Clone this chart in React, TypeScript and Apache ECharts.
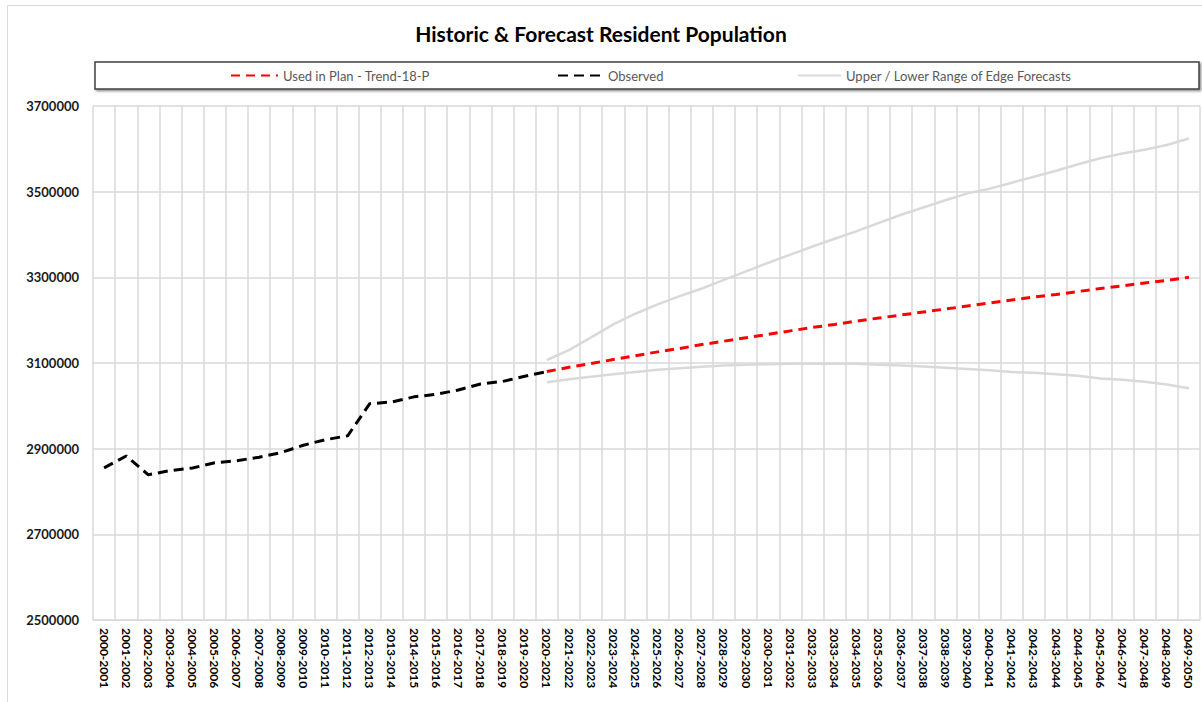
import React, { useEffect, useRef } from "react";
import * as echarts from "echarts";

const TITLE = "Historic & Forecast Resident Population";
const LEGEND_PLAN = "Used in Plan - Trend-18-P";
const LEGEND_OBS = "Observed";
const LEGEND_RANGE = "Upper / Lower Range of Edge Forecasts";

const categories = [
  "2000-2001", "2001-2002", "2002-2003", "2003-2004", "2004-2005",
  "2005-2006", "2006-2007", "2007-2008", "2008-2009", "2009-2010",
  "2010-2011", "2011-2012", "2012-2013", "2013-2014", "2014-2015",
  "2015-2016", "2016-2017", "2017-2018", "2018-2019", "2019-2020",
  "2020-2021", "2021-2022", "2022-2023", "2023-2024", "2024-2025",
  "2025-2026", "2026-2027", "2027-2028", "2028-2029", "2029-2030",
  "2030-2031", "2031-2032", "2032-2033", "2033-2034", "2034-2035",
  "2035-2036", "2036-2037", "2037-2038", "2038-2039", "2039-2040",
  "2040-2041", "2041-2042", "2042-2043", "2043-2044", "2044-2045",
  "2045-2046", "2046-2047", "2047-2048", "2048-2049", "2049-2050",
];

// 2000-2001 .. 2020-2021
const observed = [
  2855000, 2883000, 2839000, 2849000, 2855000, 2867000, 2872000, 2880000,
  2891000, 2908000, 2921000, 2930000, 3005000, 3009000, 3021000, 3027000,
  3037000, 3051000, 3057000, 3069000, 3080000,
];

// 2020-2021 .. 2049-2050
const plan = [
  3080000, 3090000, 3099000, 3108000, 3117000, 3126000, 3134000, 3143000,
  3151000, 3159000, 3167000, 3175000, 3183000, 3190000, 3198000, 3205000,
  3212000, 3219000, 3226000, 3233000, 3240000, 3247000, 3254000, 3260000,
  3267000, 3274000, 3280000, 3287000, 3293000, 3300000,
];

const upper = [
  3107000, 3130000, 3160000, 3190000, 3215000, 3237000, 3256000, 3274000,
  3294000, 3314000, 3334000, 3353000, 3372000, 3390000, 3408000, 3427000,
  3446000, 3463000, 3480000, 3496000, 3507000, 3521000, 3535000, 3549000,
  3564000, 3578000, 3589000, 3598000, 3609000, 3624000,
];

const lower = [
  3055000, 3062000, 3068000, 3074000, 3079000, 3084000, 3088000, 3091000,
  3094000, 3096000, 3097000, 3098000, 3098000, 3098000, 3098000, 3096000,
  3094000, 3092000, 3089000, 3086000, 3083000, 3079000, 3077000, 3074000,
  3070000, 3064000, 3061000, 3056000, 3050000, 3041000,
];

const yTicks = [2500000, 2700000, 2900000, 3100000, 3300000, 3500000, 3700000];

const BASE = yTicks[0];
const STEP = yTicks[1] - yTicks[0];
const TOP = yTicks[yTicks.length - 1];
const FORECAST_START = categories.length - plan.length;

const padHistoric = (vals: number[]) =>
  vals.map((v) => v - BASE).concat(new Array(categories.length - vals.length).fill(null));
const padForecast = (vals: number[]) =>
  new Array(FORECAST_START).fill(null).concat(vals.map((v) => v - BASE));

const FONT = "Lato, 'Open Sans', sans-serif";

const legendCommon = {
  z: 10,
  top: 64,
  itemHeight: 14,
  selectedMode: false,
  itemStyle: { opacity: 0 },
  textStyle: { fontFamily: FONT, fontSize: 13, color: "#595959" },
};

export default function App() {
  const ref = useRef<HTMLDivElement>(null);

  useEffect(() => {
    if (!ref.current) return;
    const chart = echarts.init(ref.current, null, { renderer: "svg" });
    const grey = "#d9d9d9";
    chart.setOption({
      animation: false,
      backgroundColor: "#ffffff",
      title: {
        text: TITLE,
        left: "center",
        top: 18,
        textStyle: {
          fontFamily: FONT,
          fontWeight: "bold",
          fontSize: 21,
          color: "#000000",
        },
      },
      graphic: [
        {
          type: "rect",
          z: 0,
          silent: true,
          shape: { x: 7.5, y: 5.5, width: 1200, height: 700 },
          style: { fill: "none", stroke: "#d9d9d9", lineWidth: 1 },
        },
        {
          type: "rect",
          z: 0,
          silent: true,
          shape: { x: 95, y: 62, width: 1104, height: 27 },
          style: {
            fill: "#ffffff",
            stroke: "#404040",
            lineWidth: 1.5,
            shadowBlur: 2,
            shadowColor: "rgba(0,0,0,0.45)",
            shadowOffsetX: 1.5,
            shadowOffsetY: 1.5,
          },
        },
      ],
      legend: [
        { ...legendCommon, left: 225, data: [LEGEND_PLAN], itemWidth: 47 },
        { ...legendCommon, left: 552, data: [LEGEND_OBS], itemWidth: 45 },
        { ...legendCommon, left: 792, data: [LEGEND_RANGE], itemWidth: 43 },
      ],
      grid: { left: 93, right: 2, top: 106, bottom: 82, containLabel: false },
      xAxis: {
        type: "category",
        data: categories,
        boundaryGap: true,
        axisLine: { show: true, lineStyle: { color: grey, width: 1 } },
        axisTick: { show: false },
        splitLine: { show: true, lineStyle: { color: grey, width: 1.5 } },
        axisLabel: {
          interval: 0,
          rotate: -90,
          margin: 8,
          fontFamily: FONT,
          fontWeight: "bold",
          fontSize: 12,
          color: "#000000",
        },
      },
      yAxis: {
        type: "value",
        min: 0,
        max: TOP - BASE,
        interval: STEP,
        axisLine: { show: false },
        axisTick: { show: false },
        splitLine: { show: true, lineStyle: { color: grey, width: 1.5 } },
        axisLabel: {
          margin: 14,
          fontFamily: FONT,
          fontWeight: "bold",
          fontSize: 13,
          color: "#1a1a1a",
          formatter: (v: number) => String(v + BASE),
        },
      },
      series: [
        {
          name: LEGEND_RANGE,
          type: "line",
          data: padForecast(upper),
          showSymbol: false,
          symbol: "none",
          lineStyle: { color: "#d9d9d9", width: 2.5, type: "solid" },
          itemStyle: { color: "#d9d9d9" },
        },
        {
          name: LEGEND_RANGE,
          type: "line",
          data: padForecast(lower),
          showSymbol: false,
          symbol: "none",
          lineStyle: { color: "#d9d9d9", width: 2.5, type: "solid" },
          itemStyle: { color: "#d9d9d9" },
        },
        {
          name: LEGEND_OBS,
          type: "line",
          data: padHistoric(observed),
          showSymbol: false,
          symbol: "none",
          lineStyle: { color: "#000000", width: 3, type: [10, 6], cap: "butt" },
          itemStyle: { color: "#000000" },
        },
        {
          name: LEGEND_PLAN,
          type: "line",
          data: padForecast(plan),
          showSymbol: false,
          symbol: "none",
          lineStyle: { color: "#ff0000", width: 3, type: [9, 6], cap: "butt" },
          itemStyle: { color: "#ff0000" },
        },
      ],
    });
    return () => chart.dispose();
  }, []);

  return (
    <div
      ref={ref}
      style={{ position: "absolute", left: 0, top: 0, width: 1202, height: 702 }}
    />
  );
}
